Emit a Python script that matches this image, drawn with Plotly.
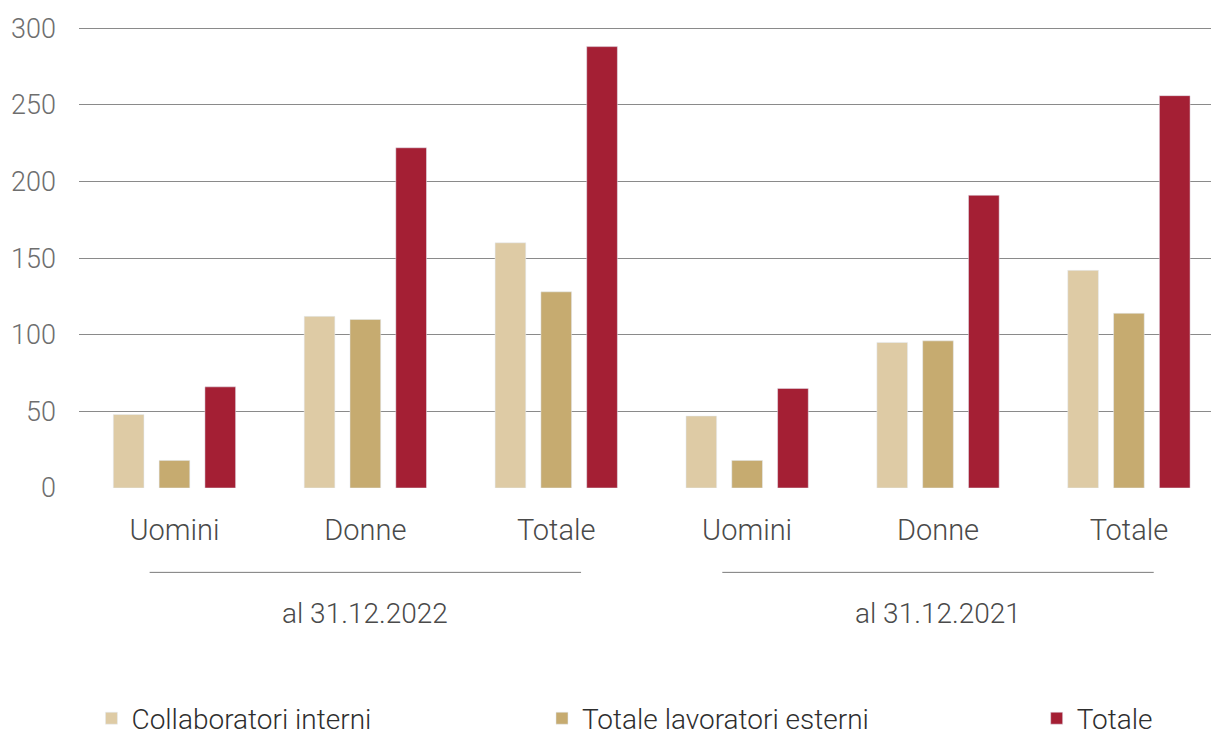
import plotly.graph_objects as go

categories = ["Uomini", "Donne", "Totale", "Uomini ", "Donne ", "Totale "]
tick_labels = ["Uomini", "Donne", "Totale", "Uomini", "Donne", "Totale"]
groups = ["al 31.12.2022", "al 31.12.2021"]
group_centers = [1, 4]
collaboratori_interni = [48, 112, 160, 47, 95, 142]
lavoratori_esterni = [18, 110, 128, 18, 96, 114]
totale = [66, 222, 288, 65, 191, 256]
y_ticks = [0, 50, 100, 150, 200, 250, 300]

FONT = "Roboto"

fig = go.Figure()
fig.add_bar(x=categories, y=collaboratori_interni, name="Collaboratori interni",
            marker_color="#DECBA5", legend="legend")
fig.add_bar(x=categories, y=lavoratori_esterni, name="Totale lavoratori esterni",
            marker_color="#C6AB70", legend="legend2")
fig.add_bar(x=categories, y=totale, name="Totale",
            marker_color="#A41F34", legend="legend3")

# group separators and labels
for gc, label in zip(group_centers, groups):
    fig.add_shape(type="line", xref="x", yref="paper", x0=gc - 1.13, x1=gc + 1.13,
                  y0=-0.183, y1=-0.183, line=dict(color="#7a7a7a", width=1))
    fig.add_annotation(x=gc, xref="x", y=-0.273, yref="paper", text=label, showarrow=False,
                       font=dict(family=FONT, size=28, color="#4a4a4a", weight=300),
                       yanchor="middle")

legend_font = dict(family=FONT, size=28, color="#2e2e2e", weight=300)
legend_common = dict(orientation="h", xanchor="left", y=-0.50, yanchor="middle",
                     font=legend_font, itemclick=False, itemdoubleclick=False,
                     bgcolor="rgba(0,0,0,0)")

fig.update_layout(
    width=1211, height=738,
    margin=dict(l=79, r=0, t=27, b=250, autoexpand=False),
    plot_bgcolor="white", paper_bgcolor="white",
    barmode="group", bargap=0.28, bargroupgap=0.33,
    font=dict(family=FONT, color="#6b6b6b", weight=300),
    showlegend=True,
    legend=dict(x=0.011, **legend_common),
    legend2=dict(x=0.409, **legend_common),
    legend3=dict(x=0.846, **legend_common),
    xaxis=dict(type="category", tickvals=categories, ticktext=tick_labels,
               range=[-0.5, 5.43], showgrid=False, zeroline=False, showline=False,
               ticks="", ticklabelstandoff=22,
               tickfont=dict(family=FONT, size=29, color="#4a4a4a", weight=300)),
    yaxis=dict(range=[0, 300.8], tickvals=y_ticks, showgrid=True, gridcolor="#8a8a8a",
               gridwidth=1.3, zeroline=False, showline=False, ticks="",
               ticklabelstandoff=22,
               tickfont=dict(family=FONT, size=27, color="#6e6e6e", weight=300)),
)

fig.write_html("out.html", config={"displayModeBar": False},
               post_script="document.body.style.margin='0';document.body.style.overflow='hidden';")
